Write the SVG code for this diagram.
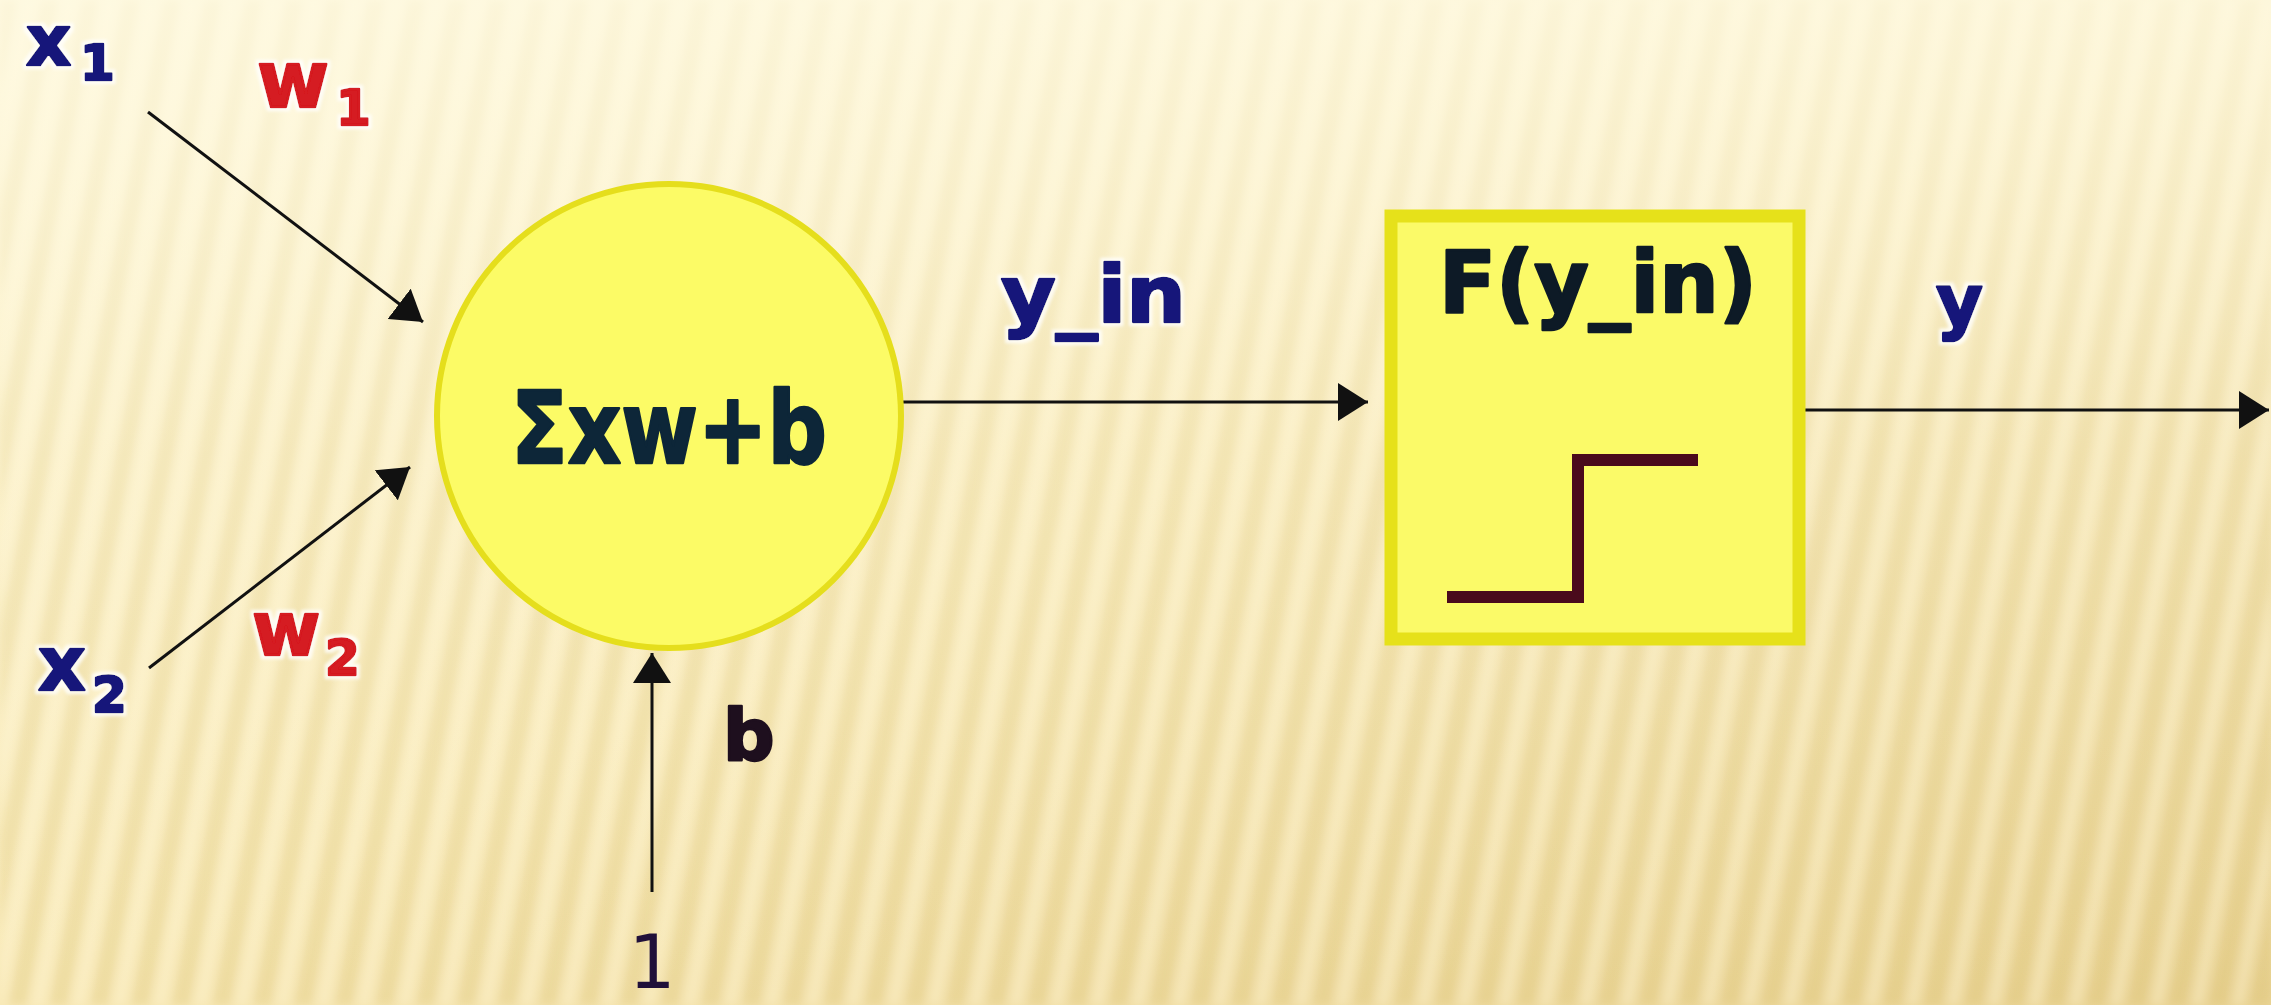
<svg xmlns="http://www.w3.org/2000/svg" width="2271" height="1005" viewBox="0 0 2271 1005">
  <defs>
    <linearGradient id="bg" x1="0" y1="0" x2="1" y2="1">
      <stop offset="0" stop-color="#fdf4cf"/>
      <stop offset="0.5" stop-color="#f8e9b6"/>
      <stop offset="1" stop-color="#ead495"/>
    </linearGradient>
    <linearGradient id="fade" x1="0" y1="0" x2="0" y2="1">
      <stop offset="0" stop-color="#fffbe6" stop-opacity="0.75"/>
      <stop offset="0.45" stop-color="#fffbe6" stop-opacity="0.25"/>
      <stop offset="1" stop-color="#fffbe6" stop-opacity="0"/>
    </linearGradient>
    <pattern id="stripes" width="40" height="40" patternUnits="userSpaceOnUse" patternTransform="rotate(11)">
      <rect x="0" y="0" width="18" height="40" fill="#c9a94e" fill-opacity="0.18"/>
      <rect x="23" y="0" width="11" height="40" fill="#fff6d8" fill-opacity="0.35"/>
    </pattern>
    <filter id="soft" x="0" y="0" width="1" height="1">
      <feGaussianBlur stdDeviation="4"/>
    </filter>
    <filter id="glow" x="-20%" y="-20%" width="140%" height="140%">
      <feMorphology in="SourceAlpha" operator="dilate" radius="3" result="d"/>
      <feGaussianBlur in="d" stdDeviation="1.5" result="b"/>
      <feFlood flood-color="#ffffff" flood-opacity="0.8"/>
      <feComposite in2="b" operator="in" result="w"/>
      <feMerge>
        <feMergeNode in="w"/>
        <feMergeNode in="SourceGraphic"/>
      </feMerge>
    </filter>
    <marker id="arrow" markerUnits="userSpaceOnUse" markerWidth="32" markerHeight="38" refX="30" refY="19" orient="auto">
      <path d="M0,0 L30,19 L0,38 z" fill="#111"/>
    </marker>
  </defs>
  <style>
    .lbl { font-family: "DejaVu Sans", Verdana, sans-serif; font-weight: bold; stroke-width: 2.5; stroke-linejoin: round; }
    .navy { fill: #15157a; stroke: #15157a; }
    .red { fill: #d51a20; stroke: #d51a20; }
    .dark { fill: #0d2638; stroke: #0d2638; }
    .conn { stroke: #111; stroke-width: 3; fill: none; marker-end: url(#arrow); }
  </style>

  <g id="background">
    <rect x="0" y="0" width="2271" height="1005" fill="url(#bg)"/>
    <rect x="0" y="0" width="2271" height="1005" fill="url(#stripes)" filter="url(#soft)"/>
    <rect x="0" y="0" width="2271" height="1005" fill="url(#fade)"/>
  </g>

  <g id="connectors">
    <line class="conn" x1="148" y1="112" x2="423" y2="322"/>
    <line class="conn" x1="149" y1="668" x2="410" y2="467"/>
    <line class="conn" x1="652" y1="892" x2="652" y2="653"/>
    <line class="conn" x1="903" y1="402" x2="1368" y2="402"/>
    <line class="conn" x1="1805" y1="410" x2="2269" y2="410"/>
  </g>

  <g id="input-x1" filter="url(#glow)">
    <text class="lbl navy" x="26" y="65" font-size="70">x</text>
    <text class="lbl navy" x="80" y="80" font-size="50">1</text>
  </g>
  <g id="weight-w1" filter="url(#glow)">
    <text class="lbl red" x="257" y="107" font-size="78">w</text>
    <text class="lbl red" x="336" y="125" font-size="50">1</text>
  </g>
  <g id="input-x2" filter="url(#glow)">
    <text class="lbl navy" x="38" y="690" font-size="74">x</text>
    <text class="lbl navy" x="92" y="712" font-size="50">2</text>
  </g>
  <g id="weight-w2" filter="url(#glow)">
    <text class="lbl red" x="252" y="655" font-size="74">w</text>
    <text class="lbl red" x="325" y="675" font-size="50">2</text>
  </g>

  <g id="sum-node">
    <circle cx="669" cy="416" r="232" fill="#fcfb66" stroke="#e5de1c" stroke-width="6"/>
    <text class="lbl dark" x="511" y="463" font-size="100" textLength="316" lengthAdjust="spacingAndGlyphs">Σxw+b</text>
  </g>

  <g id="bias-labels">
    <text class="lbl" x="723" y="760" font-size="72" fill="#1e0f1e" stroke="#1e0f1e">b</text>
    <text x="652" y="988" font-family="DejaVu Sans, Verdana, sans-serif" font-size="74" fill="#20103a" text-anchor="middle">1</text>
  </g>

  <g id="label-y_in" filter="url(#glow)">
    <text class="lbl navy" x="1001" y="322" font-size="78" textLength="185" lengthAdjust="spacingAndGlyphs">y_in</text>
  </g>

  <g id="activation-node">
    <rect x="1391" y="216" width="408" height="423" fill="#fbfa68" stroke="#e6e11a" stroke-width="13"/>
    <text class="lbl" x="1439" y="312" font-size="85" fill="#0d1a26" stroke="#0d1a26" textLength="318" lengthAdjust="spacingAndGlyphs">F(y_in)</text>
    <path d="M1447,597 H1578 V460 H1698" fill="none" stroke="#4a0a1c" stroke-width="12"/>
  </g>

  <g id="label-y" filter="url(#glow)">
    <text class="lbl navy" x="1936" y="326" font-size="72">y</text>
  </g>
</svg>
